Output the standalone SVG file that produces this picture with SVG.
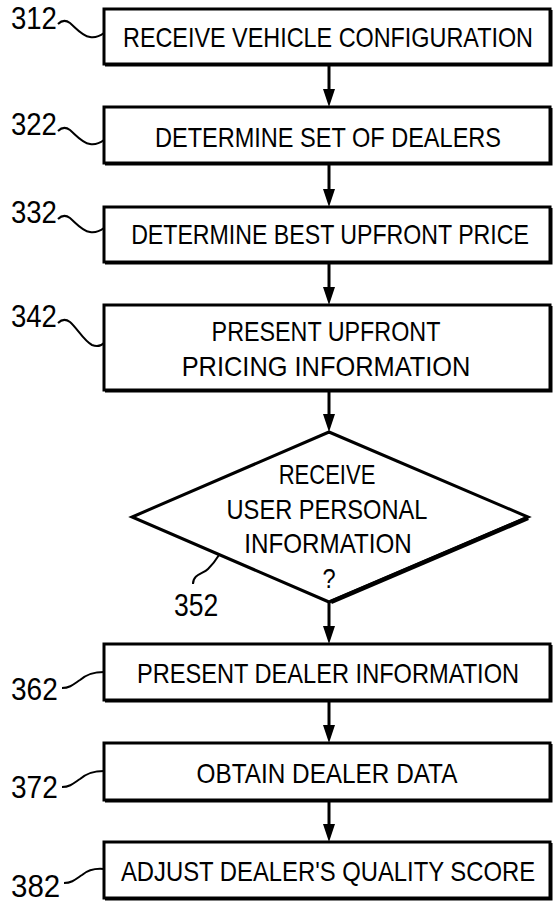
<svg xmlns="http://www.w3.org/2000/svg" width="556" height="903" viewBox="0 0 556 903">
<style>
  .box { fill: #fff; stroke: #000; stroke-width: 3; }
  .shadow { fill: none; stroke: #000; stroke-width: 2; }
  .t { font-family: "Liberation Sans", Arial, sans-serif; font-size: 28.5px; fill: #000; text-anchor: middle; }
  .lbl { font-family: "Liberation Sans", Arial, sans-serif; font-size: 31px; fill: #000; }
  .lead { fill: none; stroke: #000; stroke-width: 2; }
  .conn { stroke: #000; stroke-width: 3; fill: none; }
</style>
<rect width="556" height="903" fill="#fff"/>

<g id="connectors">
  <line class="conn" x1="329" y1="64" x2="329" y2="89"/>
  <path d="M323,89 L335,89 L329,107 Z"/>
  <line class="conn" x1="329" y1="163" x2="329" y2="189"/>
  <path d="M323,189 L335,189 L329,207 Z"/>
  <line class="conn" x1="329" y1="262" x2="329" y2="287"/>
  <path d="M323,287 L335,287 L329,305 Z"/>
  <line class="conn" x1="329" y1="390" x2="329" y2="414"/>
  <path d="M323,414 L335,414 L329,432 Z"/>
  <line class="conn" x1="329" y1="602" x2="329" y2="626"/>
  <path d="M323,626 L335,626 L329,644 Z"/>
  <line class="conn" x1="329" y1="700" x2="329" y2="725"/>
  <path d="M323,725 L335,725 L329,743 Z"/>
  <line class="conn" x1="329" y1="800" x2="329" y2="824"/>
  <path d="M323,824 L335,824 L329,842 Z"/>
</g>

<g id="n312">
  <rect class="box" x="104" y="9" width="446" height="55"/>
  <path class="shadow" d="M105,65.5 L551.5,65.5 L551.5,10"/>
  <text class="t" transform="matrix(0.82 0 0 1 328 0)" x="0" y="47" textLength="500" lengthAdjust="spacingAndGlyphs">RECEIVE VEHICLE CONFIGURATION</text>
  <text class="lbl" transform="matrix(0.82 0 0 1 11 0)" x="0" y="29" textLength="56" lengthAdjust="spacingAndGlyphs">312</text>
  <path class="lead" d="M58,24 C62,20 66,20 70,23 C76,28 82,36 90,37 C96,38 100,36 104,33"/>
</g>

<g id="n322">
  <rect class="box" x="104" y="107" width="446" height="56"/>
  <path class="shadow" d="M105,164.5 L551.5,164.5 L551.5,108"/>
  <text class="t" transform="matrix(0.82 0 0 1 328 0)" x="0" y="147" textLength="422" lengthAdjust="spacingAndGlyphs">DETERMINE SET OF DEALERS</text>
  <text class="lbl" transform="matrix(0.82 0 0 1 11 0)" x="0" y="135" textLength="56" lengthAdjust="spacingAndGlyphs">322</text>
  <path class="lead" d="M58,131 C62,127 66,127 70,130 C76,135 82,143 90,144 C96,145 100,143 104,140"/>
</g>

<g id="n332">
  <rect class="box" x="104" y="207" width="446" height="55"/>
  <path class="shadow" d="M105,263.5 L551.5,263.5 L551.5,208"/>
  <text class="t" transform="matrix(0.82 0 0 1 330 0)" x="0" y="244" textLength="485" lengthAdjust="spacingAndGlyphs">DETERMINE BEST UPFRONT PRICE</text>
  <text class="lbl" transform="matrix(0.82 0 0 1 11 0)" x="0" y="223" textLength="56" lengthAdjust="spacingAndGlyphs">332</text>
  <path class="lead" d="M58,219 C62,215 66,215 70,218 C76,223 82,231 90,232 C96,233 100,231 104,228"/>
</g>

<g id="n342">
  <rect class="box" x="104" y="305" width="446" height="85"/>
  <path class="shadow" d="M105,391.5 L551.5,391.5 L551.5,306"/>
  <text class="t" transform="matrix(0.82 0 0 1 326 0)" x="0" y="341" textLength="279" lengthAdjust="spacingAndGlyphs">PRESENT UPFRONT</text>
  <text class="t" transform="matrix(0.82 0 0 1 326 0)" x="0" y="376" textLength="352" lengthAdjust="spacingAndGlyphs">PRICING INFORMATION</text>
  <text class="lbl" transform="matrix(0.82 0 0 1 11 0)" x="0" y="327" textLength="56" lengthAdjust="spacingAndGlyphs">342</text>
  <path class="lead" d="M58,323 C62,319 66,319 70,322 C77,328 84,341 92,345 C97,347 101,346 104,343"/>
</g>

<g id="n352">
  <polygon points="329,432 528,517 329,602 132,517" fill="#fff" stroke="#000" stroke-width="3" stroke-linejoin="miter"/>
  <line x1="528" y1="518" x2="331" y2="602" stroke="#000" stroke-width="4.5"/>
  <text class="t" transform="matrix(0.82 0 0 1 327 0)" x="0" y="484" textLength="118" lengthAdjust="spacingAndGlyphs">RECEIVE</text>
  <text class="t" transform="matrix(0.82 0 0 1 327 0)" x="0" y="519" textLength="245" lengthAdjust="spacingAndGlyphs">USER PERSONAL</text>
  <text class="t" transform="matrix(0.82 0 0 1 328 0)" x="0" y="553" textLength="204" lengthAdjust="spacingAndGlyphs">INFORMATION</text>
  <text class="t" transform="matrix(0.82 0 0 1 329 0)" x="0" y="588" textLength="16" lengthAdjust="spacingAndGlyphs">?</text>
  <text class="lbl" transform="matrix(0.82 0 0 1 174 0)" x="0" y="616" textLength="54" lengthAdjust="spacingAndGlyphs">352</text>
  <path class="lead" d="M193,584 C193,574 203,574 208,569 C213,564 216,560 219,555"/>
</g>

<g id="n362">
  <rect class="box" x="104" y="644" width="446" height="56"/>
  <path class="shadow" d="M105,701.5 L551.5,701.5 L551.5,645"/>
  <text class="t" transform="matrix(0.82 0 0 1 328 0)" x="0" y="683" textLength="466" lengthAdjust="spacingAndGlyphs">PRESENT DEALER INFORMATION</text>
  <text class="lbl" transform="matrix(0.82 0 0 1 11 0)" x="0" y="700" textLength="57" lengthAdjust="spacingAndGlyphs">362</text>
  <path class="lead" d="M62,688 C70,688 74,684 80,680 C86,675 92,672 104,672"/>
</g>

<g id="n372">
  <rect class="box" x="104" y="743" width="446" height="57"/>
  <path class="shadow" d="M105,801.5 L551.5,801.5 L551.5,744"/>
  <text class="t" transform="matrix(0.82 0 0 1 327 0)" x="0" y="783" textLength="318" lengthAdjust="spacingAndGlyphs">OBTAIN DEALER DATA</text>
  <text class="lbl" transform="matrix(0.82 0 0 1 11 0)" x="0" y="798" textLength="57" lengthAdjust="spacingAndGlyphs">372</text>
  <path class="lead" d="M62,787 C70,787 74,783 80,779 C86,774 92,771 104,771"/>
</g>

<g id="n382">
  <rect class="box" x="104" y="842" width="446" height="56"/>
  <path class="shadow" d="M105,899.5 L551.5,899.5 L551.5,843"/>
  <text class="t" transform="matrix(0.82 0 0 1 328 0)" x="0" y="881" textLength="505" lengthAdjust="spacingAndGlyphs">ADJUST DEALER'S QUALITY SCORE</text>
  <text class="lbl" transform="matrix(0.82 0 0 1 11 0)" x="0" y="897" textLength="60" lengthAdjust="spacingAndGlyphs">382</text>
  <path class="lead" d="M64,883 C72,883 76,879 82,875 C88,870 94,868 104,869"/>
</g>
</svg>
